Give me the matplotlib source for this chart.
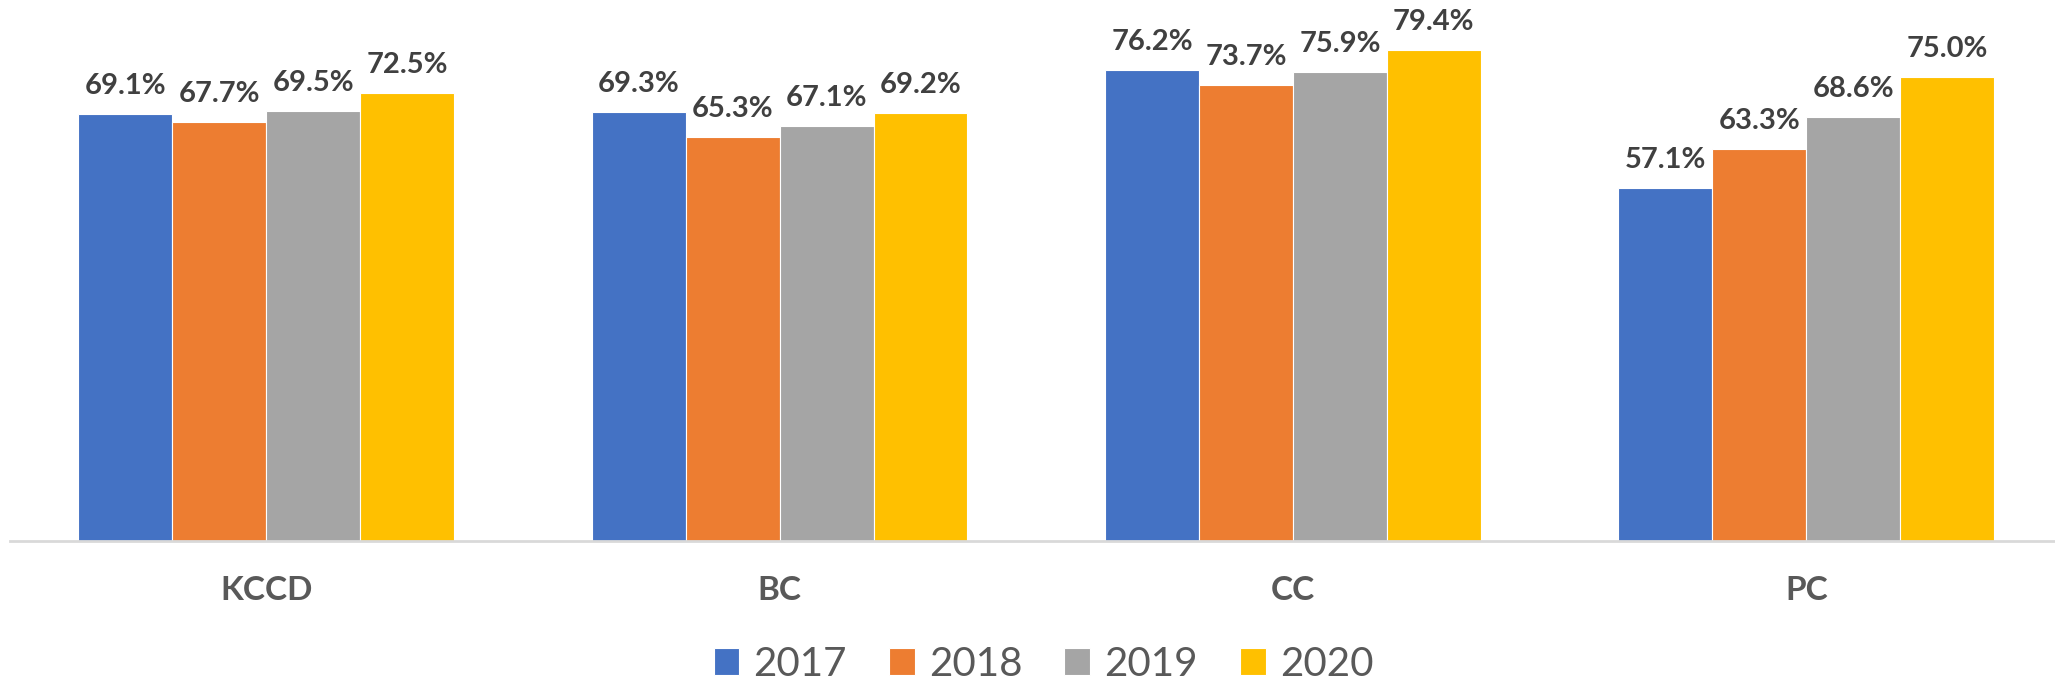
import numpy as np
import matplotlib
matplotlib.use("Agg")
import matplotlib.pyplot as plt
import matplotlib.transforms as mtransforms

categories = ["KCCD", "BC", "CC", "PC"]
years = ["2017", "2018", "2019", "2020"]
v2017 = [69.1, 69.3, 76.2, 57.1]
v2018 = [67.7, 65.3, 73.7, 63.3]
v2019 = [69.5, 67.1, 75.9, 68.6]
v2020 = [72.5, 69.2, 79.4, 75.0]
series = [v2017, v2018, v2019, v2020]
colors = ["#4472C4", "#ED7D31", "#A5A5A5", "#FFC000"]

plt.rcParams["font.family"] = ["Lato", "DejaVu Sans"]

W, H = 2055, 688
fig = plt.figure(figsize=(W / 100, H / 100), dpi=100)
# axes spans past the right edge, like the cropped original
ax = fig.add_axes([9.5 / W, 1 - 541 / H, 2053.5 / W, 541 / H])

x = np.arange(len(categories))
bw = 0.183
for i, (vals, c, yr) in enumerate(zip(series, colors, years)):
    pos = x + (i - 1.5) * bw
    bars = ax.bar(pos, vals, width=bw, color=c, edgecolor="white",
                  linewidth=0.8, label=yr, zorder=2)
    for b, v in zip(bars, vals):
        ax.annotate(f"{v:.1f}%", (b.get_x() + b.get_width() / 2, v),
                    xytext=(0, 20), textcoords="offset pixels",
                    ha="center", va="baseline", fontsize=21,
                    fontweight="bold", color="#404040")

ax.set_xlim(-0.5, len(categories) - 0.5)
ax.set_ylim(0, 541 / 6.185)
for s in ["top", "right", "left"]:
    ax.spines[s].set_visible(False)
ax.spines["bottom"].set_color("#D9D9D9")
ax.spines["bottom"].set_linewidth(2)
ax.set_yticks([])
ax.set_xticks([])

trans = mtransforms.blended_transform_factory(ax.transData, fig.transFigure)
for xi, cat in zip(x, categories):
    ax.text(xi, 1 - 600 / H, cat, transform=trans, ha="center",
            va="baseline", fontsize=24, fontweight="bold", color="#595959")

fig.legend(loc="center", bbox_to_anchor=(1043.5 / W, 1 - 664 / H),
           ncol=4, frameon=False, fontsize=29, labelcolor="#595959",
           handlelength=0.645, handleheight=0.645, handletextpad=0.35,
           columnspacing=1.04, borderaxespad=0, borderpad=0)

fig.savefig("out.png", dpi=100)
